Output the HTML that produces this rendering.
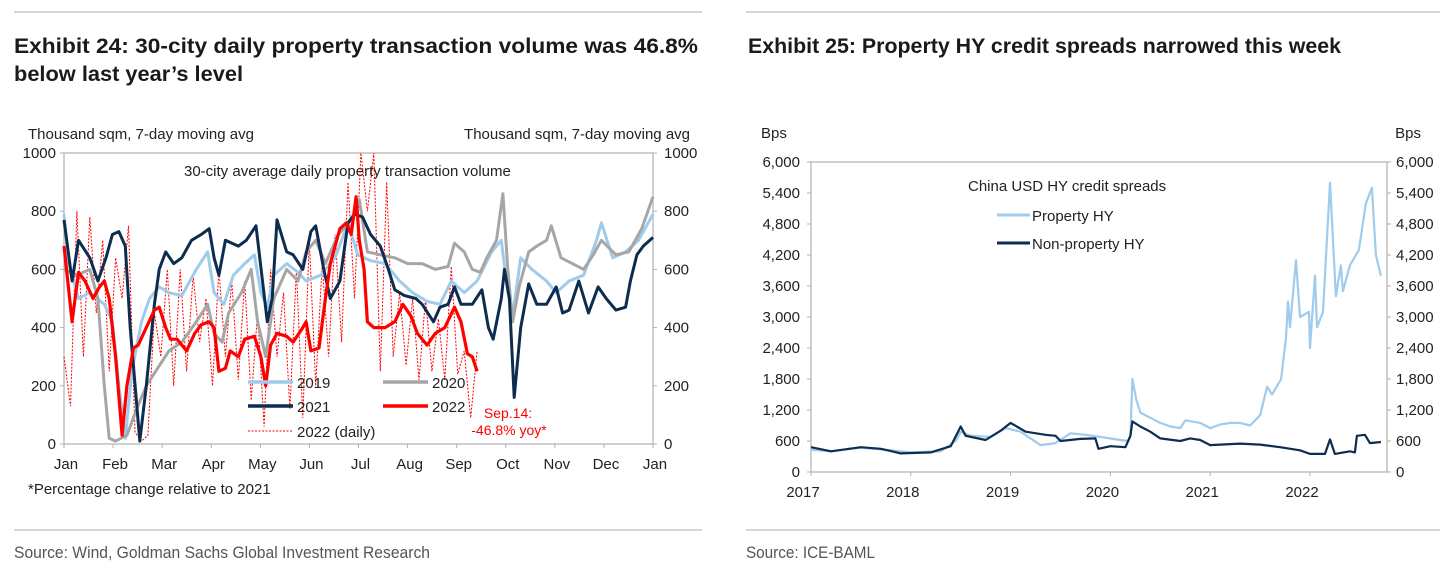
<!DOCTYPE html>
<html><head><meta charset="utf-8"><style>
html,body{margin:0;padding:0;background:#fff;}
svg{display:block;font-family:"Liberation Sans Narrow","Liberation Sans",sans-serif;}
</style></head><body>
<svg id="root" width="1452" height="574" viewBox="0 0 1452 574">
<line x1="14" y1="12" x2="702" y2="12" stroke="#c8c8c8" stroke-width="1.5"/>
<line x1="746" y1="12" x2="1440" y2="12" stroke="#c8c8c8" stroke-width="1.5"/>
<text x="14" y="53" font-size="21" font-weight="bold" fill="#1a1a1a" textLength="684" lengthAdjust="spacingAndGlyphs">Exhibit 24: 30-city daily property transaction volume was 46.8%</text>
<text x="14" y="81" font-size="21" font-weight="bold" fill="#1a1a1a" textLength="229" lengthAdjust="spacingAndGlyphs">below last year’s level</text>
<text x="748" y="53" font-size="21" font-weight="bold" fill="#1a1a1a" textLength="593" lengthAdjust="spacingAndGlyphs">Exhibit 25: Property HY credit spreads narrowed this week</text>
<line x1="14" y1="530" x2="702" y2="530" stroke="#c8c8c8" stroke-width="1.5"/>
<line x1="746" y1="530" x2="1440" y2="530" stroke="#c8c8c8" stroke-width="1.5"/>
<text x="14" y="558" font-size="17" fill="#555" textLength="416" lengthAdjust="spacingAndGlyphs">Source: Wind, Goldman Sachs Global Investment Research</text>
<text x="746" y="558" font-size="17" fill="#555" textLength="129" lengthAdjust="spacingAndGlyphs">Source: ICE-BAML</text>
<g id="left"></g>
<g id="right"></g>
</svg>
<script>
// ---------- Left chart data ----------
const monthLabels = ["Jan","Feb","Mar","Apr","May","Jun","Jul","Aug","Sep","Oct","Nov","Dec","Jan"];
const volTicks = [0,200,400,600,800,1000];
const d2019 = [0,3,9,16,25,30,34,38,42,48,53,59,65,73,82,89,93,99,105,112,118,122,126,130,138,145,150,159,168,176,182,190,199,208,216,225,233,240,248,256,265,271,275,278,283,290,299,305,313,322,330,333,340,348,356,365];
const v2019 = [790,620,500,520,480,420,200,20,250,420,500,540,520,510,600,660,520,480,580,620,650,520,470,580,620,590,560,580,640,760,650,630,620,560,520,490,480,560,520,560,660,700,520,440,640,600,560,520,560,580,700,760,640,660,700,790];
const d2020 = [0,8,16,21,25,28,32,39,45,51,58,65,73,82,89,93,98,102,110,116,120,125,130,138,145,150,156,162,170,179,183,188,196,205,213,222,230,238,242,248,253,258,262,268,272,275,278,282,288,293,299,302,308,315,322,328,333,342,350,358,365];
const v2020 = [600,580,600,500,200,20,10,30,120,200,260,320,350,420,480,380,350,450,520,600,420,300,500,600,560,660,700,620,720,780,840,660,650,640,620,620,600,610,690,660,600,590,640,700,860,600,420,540,660,680,700,750,640,620,600,650,700,650,660,740,850];
const d2021 = [0,5,9,16,21,26,30,34,38,41,47,51,56,59,63,68,73,79,85,90,93,96,100,108,113,119,123,126,129,132,138,142,148,153,156,161,165,171,176,180,185,190,196,201,205,211,218,222,229,233,238,242,246,253,259,263,266,271,273,276,279,283,288,293,299,305,309,313,319,325,331,336,342,348,351,355,359,365];
const v2021 = [770,560,700,640,560,640,720,730,680,400,10,200,480,600,660,620,640,700,720,740,640,580,700,680,700,750,560,420,500,770,660,650,600,730,750,600,500,560,760,790,780,720,680,600,530,510,500,480,420,470,480,540,480,480,530,400,360,500,600,500,160,400,550,480,480,540,450,460,560,450,540,500,460,470,560,650,680,710];
const d2022 = [0,5,9,13,18,22,25,28,32,36,39,43,46,51,56,59,63,66,70,76,81,85,90,93,96,100,103,108,112,118,122,125,128,132,138,142,148,150,153,158,162,165,171,175,178,181,183,186,188,192,199,205,210,215,219,225,230,236,242,246,250,253,256];
const v2022 = [680,420,590,560,500,540,560,500,300,30,200,330,340,400,460,470,400,360,360,320,380,410,420,400,250,260,320,300,360,370,300,200,340,380,370,350,400,420,320,330,500,620,740,760,720,850,700,600,420,400,400,420,480,440,380,340,380,400,470,420,310,300,250];
const dailyStep = 4;
const vDaily = [300,130,800,300,780,450,700,250,640,500,750,40,10,30,450,300,600,200,600,250,580,350,500,200,600,300,560,220,560,150,450,60,600,300,520,120,600,90,700,200,620,300,720,350,900,500,1000,800,1000,250,900,300,520,270,500,220,500,250,430,220,610,240,320,90,320];

// ---------- Right chart data ----------
const yearLabels = ["2017","2018","2019","2020","2021","2022"];
const bpsTicks = [0,600,1200,1800,2400,3000,3600,4200,4800,5400,6000];
const tProp = [2017,2017.2,2017.5,2017.8,2018,2018.3,2018.45,2018.5,2018.6,2018.8,2018.95,2019.1,2019.2,2019.3,2019.45,2019.6,2019.75,2019.9,2020.1,2020.18,2020.2,2020.22,2020.26,2020.3,2020.4,2020.5,2020.6,2020.7,2020.75,2020.9,2021,2021.1,2021.2,2021.3,2021.4,2021.5,2021.57,2021.62,2021.71,2021.76,2021.78,2021.8,2021.86,2021.9,2021.99,2022,2022.05,2022.07,2022.13,2022.2,2022.26,2022.31,2022.33,2022.4,2022.49,2022.56,2022.62,2022.66,2022.71];
const vProp = [430,400,470,420,380,400,600,780,700,680,850,780,650,520,560,750,720,680,620,600,700,1800,1400,1150,1050,950,880,850,1000,950,850,920,950,950,900,1100,1650,1500,1800,2600,3300,2800,4100,3000,3100,2400,3800,2800,3100,5600,3400,4000,3500,4000,4300,5200,5500,4200,3800];
const tNon = [2017,2017.2,2017.5,2017.7,2017.9,2018.2,2018.4,2018.5,2018.55,2018.75,2018.9,2019,2019.15,2019.35,2019.45,2019.5,2019.7,2019.85,2019.88,2020,2020.15,2020.2,2020.22,2020.3,2020.4,2020.5,2020.7,2020.8,2020.9,2021,2021.3,2021.5,2021.7,2021.9,2022,2022.15,2022.2,2022.25,2022.4,2022.45,2022.47,2022.55,2022.6,2022.71];
const vNon = [480,400,480,450,360,380,500,880,700,620,800,950,780,720,700,600,640,650,450,500,480,700,980,880,780,650,600,650,620,520,550,530,480,420,350,350,630,350,400,380,700,720,560,580];

const NS = "http://www.w3.org/2000/svg";
function mk(parent, tag, attrs, text){
  const e = document.createElementNS(NS, tag);
  for (const k in attrs) e.setAttribute(k, attrs[k]);
  if (text !== undefined) e.textContent = text;
  parent.appendChild(e);
  return e;
}

// ---------- Left chart ----------
(function(){
  const g = document.getElementById('left');
  const X0=64, X1=653, Y0=444, Y1=153;
  const xs = d => X0 + d/365*(X1-X0);
  const ys = v => Y0 - v/1000*(Y0-Y1);
  const axisC = "#b0b0b0";
  const frame = mk(g,'rect',{x:X0,y:Y1,width:X1-X0,height:Y0-Y1,fill:'none',stroke:axisC,'stroke-width':1.2});
  
  
  volTicks.forEach(v=>{
    const t1 = mk(g,'line',{x1:X0-4,x2:X0,y1:ys(v),y2:ys(v),stroke:axisC});
    
    
    const t2 = mk(g,'line',{x1:X1,x2:X1+4,y1:ys(v),y2:ys(v),stroke:axisC});
    
    
    const l1 = mk(g,'text',{x:X0-8,y:ys(v)+5,'font-size':15,'text-anchor':'end',fill:'#222'},String(v));
    
    
    const l2 = mk(g,'text',{x:X1+11,y:ys(v)+5,'font-size':15,fill:'#222'},String(v));
    
    
  });
  monthLabels.forEach((m,i)=>{
    const x = X0 + i*(X1-X0)/12;
    const t = mk(g,'line',{x1:x,x2:x,y1:Y0,y2:Y0+4,stroke:axisC});
    
    
    const l = mk(g,'text',{x:x+2,y:469,'font-size':15,'text-anchor':'middle',fill:'#222'},m);
    
    
  });
  const a = mk(g,'text',{x:28,y:139,'font-size':15,fill:'#222'},"Thousand sqm, 7-day moving avg");
  
  
  const b = mk(g,'text',{x:690,y:139,'font-size':15,fill:'#222','text-anchor':'end'},"Thousand sqm, 7-day moving avg");
  
  
  const c = mk(g,'text',{x:184,y:176,'font-size':15,fill:'#222'},"30-city average daily property transaction volume");
  
  
  const f = mk(g,'text',{x:28,y:494,'font-size':15,fill:'#222'},"*Percentage change relative to 2021");
  
  

  function path(ds, vs){ return ds.map((d,i)=>(i?'L':'M')+xs(d).toFixed(1)+','+ys(vs[i]).toFixed(1)).join(''); }
  const dailyDays = vDaily.map((v,i)=>i*dailyStep);
  const pd = mk(g,'path',{d:path(dailyDays,vDaily),fill:'none',stroke:'#f00','stroke-width':1,'stroke-dasharray':'2,1.5'});
  
  
  const p19 = mk(g,'path',{d:path(d2019,v2019),fill:'none',stroke:'#9fcbec','stroke-width':3,'stroke-linejoin':'round'});
  
  
  const p20 = mk(g,'path',{d:path(d2020,v2020),fill:'none',stroke:'#a6a6a6','stroke-width':3,'stroke-linejoin':'round'});
  
  
  const p21 = mk(g,'path',{d:path(d2021,v2021),fill:'none',stroke:'#0d2d50','stroke-width':3,'stroke-linejoin':'round'});
  
  
  const p22 = mk(g,'path',{d:path(d2022,v2022),fill:'none',stroke:'#f00','stroke-width':3.2,'stroke-linejoin':'round'});
  
  

  const leg = [[248,382,'#9fcbec','2019',''],[383,382,'#a6a6a6','2020',''],[248,406,'#0d2d50','2021',''],[383,406,'#f00','2022',''],[248,431,'#f00','2022 (daily)','2,1.5']];
  leg.forEach(l=>{
    const ln = mk(g,'line',{x1:l[0],x2:l[0]+45,y1:l[1],y2:l[1],stroke:l[2],'stroke-width':l[4]?1:3.5,'stroke-dasharray':l[4]||'none'});
    
    
    const tx = mk(g,'text',{x:l[0]+49,y:l[1]+6,'font-size':15,fill:'#222'},l[3]);
    
    
  });
  const s1 = mk(g,'text',{x:508,y:418,'font-size':14,fill:'#f00','text-anchor':'middle'},"Sep.14:");
  
  
  const s2 = mk(g,'text',{x:509,y:435,'font-size':14,fill:'#f00','text-anchor':'middle'},"-46.8% yoy*");
  
  
})();

// ---------- Right chart ----------
(function(){
  const g = document.getElementById('right');
  const X0=811, X1=1387, Y0=472, Y1=162;
  const pxPerYear = 99.8;
  const xs = t => X0 + (t-2017)*pxPerYear;
  const ys = v => Y0 - v/6000*(Y0-Y1);
  const axisC = "#b0b0b0";
  const frame = mk(g,'rect',{x:X0,y:Y1,width:X1-X0,height:Y0-Y1,fill:'none',stroke:axisC,'stroke-width':1.2});
  
  
  bpsTicks.forEach(v=>{
    const t1 = mk(g,'line',{x1:X0-4,x2:X0,y1:ys(v),y2:ys(v),stroke:axisC});
    
    
    const t2 = mk(g,'line',{x1:X1,x2:X1+4,y1:ys(v),y2:ys(v),stroke:axisC});
    
    
    const lab = v.toLocaleString('en-US');
    const l1 = mk(g,'text',{x:X0-11,y:ys(v)+5,'font-size':15,'text-anchor':'end',fill:'#222'},lab);
    
    
    const l2 = mk(g,'text',{x:X1+9,y:ys(v)+5,'font-size':15,fill:'#222'},lab);
    
    
  });
  yearLabels.forEach((y,i)=>{
    const x = xs(2017+i);
    const t = mk(g,'line',{x1:x,x2:x,y1:Y0,y2:Y0+4,stroke:axisC});
    
    
    const l = mk(g,'text',{x:x-8,y:497,'font-size':15,'text-anchor':'middle',fill:'#222'},y);
    
    
  });
  const a = mk(g,'text',{x:761,y:138,'font-size':15,fill:'#222'},"Bps");
  
  
  const b = mk(g,'text',{x:1421,y:138,'font-size':15,fill:'#222','text-anchor':'end'},"Bps");
  
  
  const c = mk(g,'text',{x:968,y:191,'font-size':15,fill:'#222'},"China USD HY credit spreads");
  
  

  function path(ts, vs){ return ts.map((t,i)=>(i?'L':'M')+xs(t).toFixed(1)+','+ys(vs[i]).toFixed(1)).join(''); }
  const pp = mk(g,'path',{d:path(tProp,vProp),fill:'none',stroke:'#9fcbec','stroke-width':2.2,'stroke-linejoin':'round'});
  
  
  const pn = mk(g,'path',{d:path(tNon,vNon),fill:'none',stroke:'#0d2d50','stroke-width':2.2,'stroke-linejoin':'round'});
  
  

  const leg = [[997,215,'#9fcbec','Property HY'],[997,243,'#0d2d50','Non-property HY']];
  leg.forEach(l=>{
    const ln = mk(g,'line',{x1:l[0],x2:l[0]+33,y1:l[1],y2:l[1],stroke:l[2],'stroke-width':3});
    
    
    const tx = mk(g,'text',{x:l[0]+35,y:l[1]+6,'font-size':15,fill:'#222'},l[3]);
    
    
  });
})();
</script>
</body></html>
